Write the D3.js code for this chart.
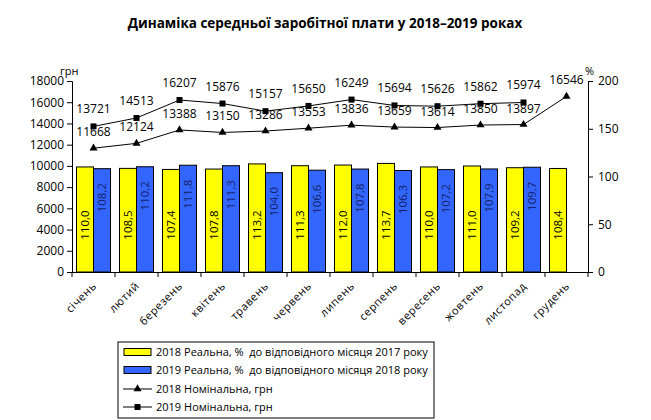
<!DOCTYPE html>
<html><head><meta charset="utf-8">
<script src="https://cdn.jsdelivr.net/npm/d3@7"></script>
<style>
body{margin:0;background:#fff}
svg{display:block}
text{font-family:"Open Sans",sans-serif;fill:#000}
</style>
</head><body>
<svg width="651" height="420"></svg>
<script>
const titleText = "Динаміка середньої заробітної плати у 2018–2019 роках";
const months = ["січень","лютий","березень","квітень","травень","червень","липень","серпень","вересень","жовтень","листопад","грудень"];
const real2018 = [110.0,108.5,107.4,107.8,113.2,111.3,112.0,113.7,110.0,111.0,109.2,108.4];
const real2019 = [108.2,110.2,111.8,111.3,104.0,106.6,107.8,106.3,107.2,107.9,109.7];
const nominal2018 = [11668,12124,13388,13150,13286,13553,13836,13659,13614,13850,13897,16546];
const nominal2019 = [13721,14513,16207,15876,15157,15650,16249,15694,15626,15862,15974];
const leftTicks = [0,2000,4000,6000,8000,10000,12000,14000,16000,18000];
const rightTicks = [0,50,100,150,200];
const legendLabels = ["2018 Реальна, %  до відповідного місяця 2017 року","2019 Реальна, %  до відповідного місяця 2018 року","2018 Номінальна, грн","2019 Номінальна, грн"];

const svg = d3.select("svg");
const L = 72, R = 588, T = 81, B = 272;
const x = d3.scaleBand().domain(months).range([L, R]);
const yL = d3.scaleLinear().domain([0, 18000]).range([B, T]);
const yR = d3.scaleLinear().domain([0, 200]).range([B, T]);
const bw = 17;
const cx = d => x(d) + x.bandwidth() / 2;
const fmt = v => v.toFixed(1).replace(".", ",");

// title
svg.append("text").attr("x", 325).attr("y", 28).attr("text-anchor", "middle")
  .style("font-weight", "bold").style("font-size", "13.5px").text(titleText);

// bars
const g = svg.append("g");
g.selectAll("rect.y18").data(real2018).join("rect")
  .attr("x", (d, i) => cx(months[i]) - bw).attr("width", bw)
  .attr("y", d => yR(d)).attr("height", d => B - yR(d))
  .attr("fill", "#FFFF00").attr("stroke", "#000").attr("stroke-width", 1);
g.selectAll("rect.y19").data(real2019).join("rect")
  .attr("x", (d, i) => cx(months[i])).attr("width", bw)
  .attr("y", d => yR(d)).attr("height", d => B - yR(d))
  .attr("fill", "#3366FF").attr("stroke", "#000").attr("stroke-width", 1);

// bar labels
g.selectAll("text.l18").data(real2018).join("text")
  .attr("transform", (d, i) => `translate(${cx(months[i]) - bw / 2},${B - 47}) rotate(-90)`)
  .attr("text-anchor", "middle").attr("dy", "0.35em")
  .style("font-size", "11.5px").text(d => fmt(d));
g.selectAll("text.l19").data(real2019).join("text")
  .attr("transform", (d, i) => `translate(${cx(months[i]) + bw / 2},${yR(d) + 29}) rotate(-90)`)
  .attr("text-anchor", "middle").attr("dy", "0.35em")
  .style("font-size", "11.5px").style("fill", "#13236a").text(d => fmt(d));

// axes
const axL = svg.append("g").attr("transform", `translate(${L},0)`)
  .call(d3.axisLeft(yL).tickValues(leftTicks).tickSize(5).tickPadding(3).tickFormat(d => d));
const axR = svg.append("g").attr("transform", `translate(${R},0)`)
  .call(d3.axisRight(yR).tickValues(rightTicks).tickSize(5).tickPadding(5).tickFormat(d => d));
[axL, axR].forEach(a => {
  a.select(".domain").attr("stroke", "#000");
  a.selectAll("line").attr("stroke", "#000");
  a.selectAll("text").style("font-size", "12px").style("font-family", "'Open Sans',sans-serif");
});
const axB = svg.append("g").attr("transform", `translate(0,${B})`)
  .call(d3.axisBottom(x).tickSize(0).tickFormat(""));
axB.select(".domain").attr("stroke", "#000");
const bounds = months.map(d => x(d)).concat([x(months[months.length - 1]) + x.step()]);
axB.selectAll("line.bt").data(bounds).join("line").attr("class", "bt")
  .attr("x1", d => d).attr("x2", d => d).attr("y1", 0).attr("y2", 5).attr("stroke", "#000");
axB.selectAll("text.ml").data(months).join("text").attr("class", "ml")
  .attr("transform", d => `translate(${cx(d) + 1},${12}) rotate(-45)`)
  .attr("text-anchor", "end").attr("dy", "0.35em")
  .style("font-size", "11px").style("letter-spacing", "0.6px").text(d => d);

// unit labels
svg.append("text").attr("x", 60).attr("y", 75).style("font-size", "11px").text("грн");
svg.append("text").attr("x", 585).attr("y", 75).style("font-size", "11px").text("%");

// lines
const line = d3.line().x((d, i) => cx(months[i])).y(d => yL(d));
svg.append("path").datum(nominal2018).attr("d", line).attr("fill", "none").attr("stroke", "#000").attr("stroke-width", 1);
svg.append("path").datum(nominal2019).attr("d", line).attr("fill", "none").attr("stroke", "#000").attr("stroke-width", 1);
const tri = d3.symbol().type(d3.symbolTriangle).size(28);
svg.selectAll("path.tri").data(nominal2018).join("path").attr("class", "tri")
  .attr("transform", (d, i) => `translate(${cx(months[i])},${yL(d)})`).attr("d", tri).attr("fill", "#000");
svg.selectAll("rect.sq").data(nominal2019).join("rect").attr("class", "sq")
  .attr("x", (d, i) => cx(months[i]) - 3).attr("y", d => yL(d) - 3)
  .attr("width", 6).attr("height", 6).attr("fill", "#000");
svg.selectAll("text.n18").data(nominal2018).join("text")
  .attr("x", (d, i) => cx(months[i])).attr("y", d => yL(d) - 12)
  .attr("text-anchor", "middle").style("font-size", "12px").text(d => d);
svg.selectAll("text.n19").data(nominal2019).join("text")
  .attr("x", (d, i) => cx(months[i])).attr("y", d => yL(d) - 13)
  .attr("text-anchor", "middle").style("font-size", "12px").text(d => d);

// legend
const lg = svg.append("g");
lg.append("rect").attr("x", 118).attr("y", 342).attr("width", 316).attr("height", 76)
  .attr("fill", "#fff").attr("stroke", "#000").attr("stroke-width", 1);
const rowY = [352, 370, 389, 407];
lg.append("rect").attr("x", 124).attr("y", rowY[0] - 3.5).attr("width", 27).attr("height", 7)
  .attr("fill", "#FFFF00").attr("stroke", "#000");
lg.append("rect").attr("x", 124).attr("y", rowY[1] - 3.5).attr("width", 27).attr("height", 7)
  .attr("fill", "#3366FF").attr("stroke", "#000");
[2, 3].forEach(k => {
  lg.append("line").attr("x1", 123).attr("x2", 152).attr("y1", rowY[k]).attr("y2", rowY[k]).attr("stroke", "#000");
});
lg.append("path").attr("transform", `translate(137.5,${rowY[2]})`).attr("d", tri).attr("fill", "#000");
lg.append("rect").attr("x", 134.5).attr("y", rowY[3] - 3).attr("width", 6).attr("height", 6).attr("fill", "#000");
lg.selectAll("text.lt").data(legendLabels).join("text")
  .attr("x", 156).attr("y", (d, i) => rowY[i]).attr("dy", "0.35em")
  .style("font-size", "11px").style("white-space", "pre").text(d => d);
</script>
</body></html>
